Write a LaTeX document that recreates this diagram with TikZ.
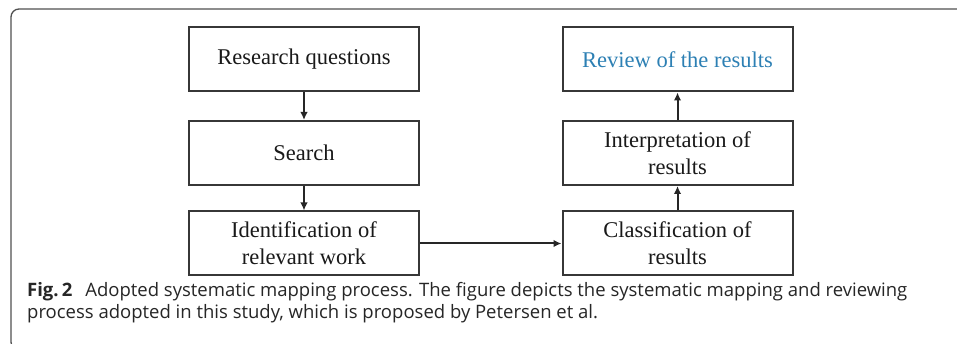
\documentclass[tikz,border=0pt]{standalone}
\usepackage{fontspec}
\setmainfont{Liberation Serif}
\newfontfamily\capfont{Open Sans}
\usetikzlibrary{arrows.meta}
\definecolor{boxline}{RGB}{55,55,55}
\definecolor{framecol}{RGB}{80,80,80}
\definecolor{revblue}{RGB}{45,128,180}
\tikzset{
  stepbox/.style={draw=boxline, line width=2pt, minimum width=230pt, minimum height=64pt,
    inner sep=0pt, align=center, font=\fontsize{22.5}{27}\selectfont, text=black!90},
  flow/.style={draw=black!85, line width=2pt, -{Latex[length=8pt,width=7.5pt]}},
  captext/.style={anchor=base west, inner sep=0pt, font=\capfont\fontsize{18.5}{22}\selectfont, text=black!85},
}
\begin{document}
\begin{tikzpicture}[x=1pt,y=-1pt]
\useasboundingbox (0,0) rectangle (957,344);
\fill[white] (0,0) rectangle (957,344);
\draw[framecol, line width=1.3pt, rounded corners=8pt] (970,9) -- (11,9) -- (11,350) -- (970,350);
% left column
\node[stepbox] (rq) at (304,59.5) {Research questions};
\node[stepbox] (se) at (304,153) {Search};
\node[stepbox] (id) at (304,243.5) {Identification of\\relevant work};
% right column
\node[stepbox, text=revblue] (rv) at (677.5,59.5) {Review of the results};
\node[stepbox] (ip) at (677.5,153) {Interpretation of\\results};
\node[stepbox] (cl) at (677.5,243.5) {Classification of\\results};
\draw[flow] (rq) -- (se);
\draw[flow] (se) -- (id);
\draw[flow] (id) -- (cl);
\draw[flow] (cl) -- (ip);
\draw[flow] (ip) -- (rv);
% caption
\node[captext] (cap1) at (27,296)
  {\textbf{Fig.\,2}\hspace{0.7em}Adopted systematic mapping process. The figure depicts the systematic mapping and reviewing};
\node[captext] (cap2) at (27,318)
  {process adopted in this study, which is proposed by Petersen et al.};
\end{tikzpicture}
\end{document}
